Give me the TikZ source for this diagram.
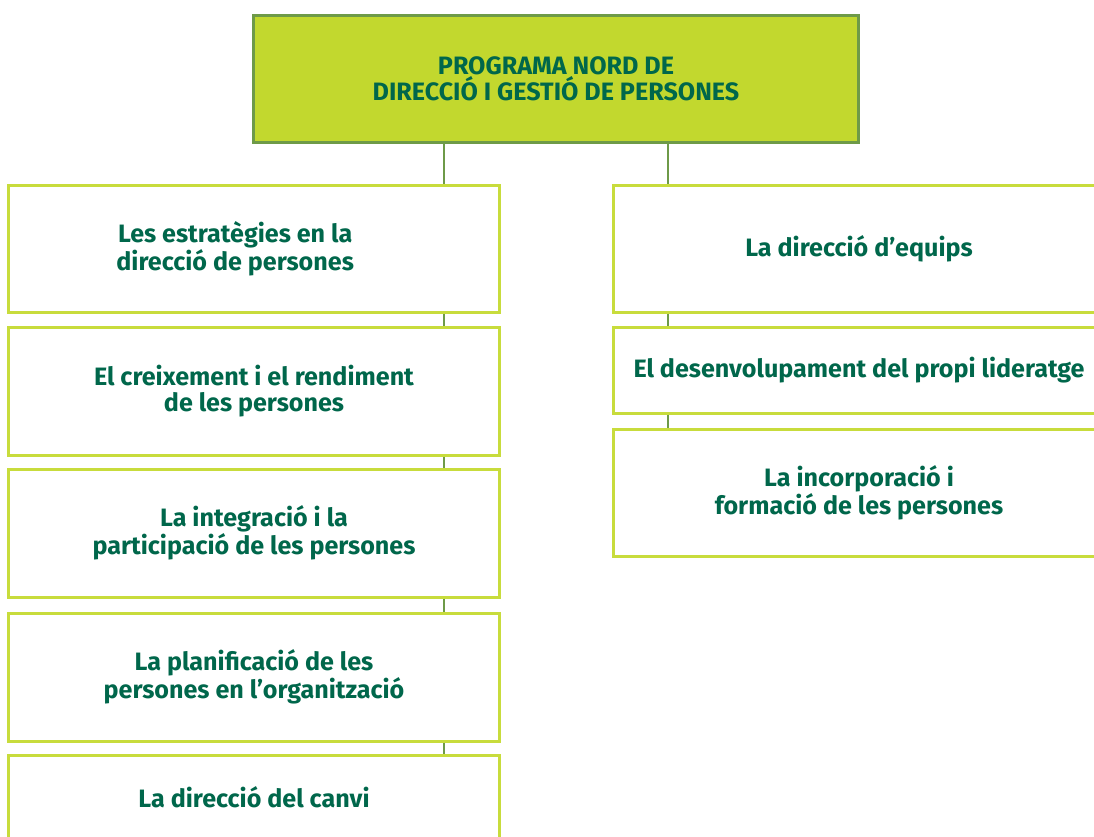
\documentclass[tikz,border=0pt]{standalone}
\usepackage{fontspec}
\setmainfont{Fira Sans}
\usetikzlibrary{calc,positioning}
\definecolor{LimaFons}{RGB}{194,216,46}
\definecolor{LimaVora}{RGB}{200,220,60}
\definecolor{OlivaLinia}{RGB}{110,154,72}
\definecolor{VerdText}{RGB}{0,103,75}
\tikzset{
  tema/.style={draw=LimaVora,line width=0.06cm,fill=white,align=center,
    text=VerdText,font=\bfseries\fontsize{14.3}{14.8}\selectfont,
    minimum width=9.84cm,minimum height=2.56cm,inner sep=0pt},
  enllac/.style={draw=OlivaLinia,line width=0.04cm}
}

\begin{document}
\begin{tikzpicture}[x=0.02cm,y=-0.02cm]
\clip (0,0) rectangle (1094,836);
\fill[white] (0,0) rectangle (1094,836);
% programa
\node[draw=OlivaLinia,line width=0.06cm,fill=LimaFons,align=center,text=VerdText,
  font=\bfseries\fontsize{14.3}{14.8}\selectfont,minimum width=12.12cm,minimum height=2.56cm,inner sep=0pt]
  (prog) at (556,79) {PROGRAMA NORD DE\\DIRECCIÓ I GESTIÓ DE PERSONES};
% columna esquerra
\node[tema] (s1) at (254,249) {Les estratègies en la\hspace*{1.5em}\\direcció de persones\hspace*{1.5em}};
\node[tema] (s2) at (254,391) {El creixement i el rendiment\\de les persones};
\node[tema] (s3) at (254,533) {La integració i la\\participació de les persones};
\node[tema] (s4) at (254,677) {La planificació de les\\persones en l’organització};
\node[tema,minimum height=1.68cm] (s5) at (254,797) {La direcció del canvi};
% columna dreta
\node[tema] (d1) at (859,249) {La direcció d’equips};
\node[tema,minimum height=1.72cm] (d2) at (859,370) {El desenvolupament del propi lideratge};
\node[tema,minimum height=2.54cm] (d3) at (859,492.5) {La incorporació i\\formació de les persones};
% enllacos
\draw[enllac] ([xshift=-1.14cm]s1.north east |- prog.south) -- ([xshift=-1.14cm]s1.north east);
\draw[enllac] ([xshift=1.12cm]d1.north west |- prog.south) -- ([xshift=1.12cm]d1.north west);
\foreach \a/\b in {s1/s2,s2/s3,s3/s4,s4/s5}
  \draw[enllac] ([xshift=-1.14cm]\a.south east) -- ([xshift=-1.14cm]\b.north east);
\foreach \a/\b in {d1/d2,d2/d3}
  \draw[enllac] ([xshift=1.12cm]\a.south west) -- ([xshift=1.12cm]\b.north west);
\end{tikzpicture}
\end{document}
